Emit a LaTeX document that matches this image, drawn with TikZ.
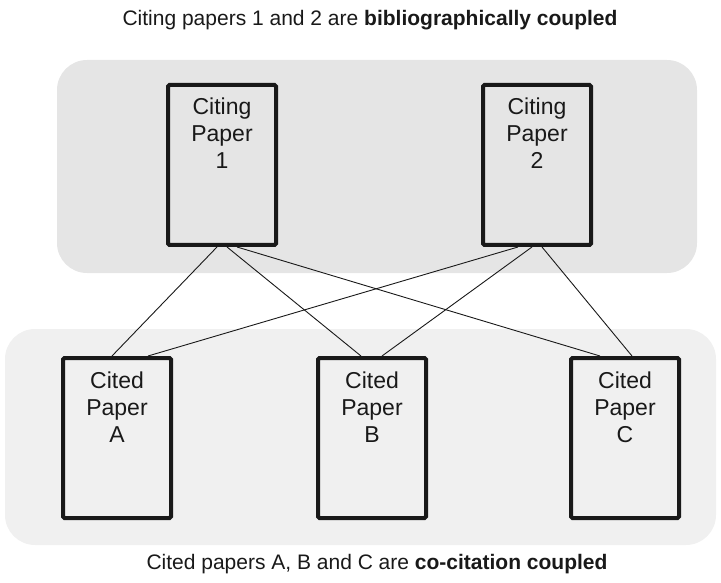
\documentclass[tikz,border=0pt]{standalone}
\usepackage{fontspec}
\setmainfont{Liberation Sans}
\begin{document}
\begin{tikzpicture}[x=1pt,y=-1pt,
  paper/.style={draw=black!90, line width=4pt, rounded corners=1.5pt, minimum width=108pt, minimum height=160pt, inner sep=0pt},
  lbl/.style={anchor=north, align=center, inner sep=0pt, font=\fontsize{23pt}{26.7pt}\selectfont, text=black!90},
  captext/.style={inner sep=0pt, font=\fontsize{21pt}{24pt}\selectfont, text=black!90},
  link/.style={draw=black!90, line width=0.9pt}]
\useasboundingbox (0,0) rectangle (721,583);
% panels
\fill[black!10, rounded corners=30pt] (57,60) rectangle (697,273);
\fill[black!6, rounded corners=30pt] (5,329) rectangle (716,545);
% captions
\node[captext] (top) at (370,20) {Citing papers 1 and 2 are \textbf{bibliographically coupled}};
\node[captext] (bot) at (377,564) {Cited papers A, B and C are \textbf{co-citation coupled}};
% boxes
\node[paper] (c1) at (222,165) {};
\node[paper] (c2) at (537,165) {};
\node[paper] (pa) at (117,438) {};
\node[paper] (pb) at (372,438) {};
\node[paper] (pc) at (625,438) {};
% labels
\node[lbl] (c1t) at (222,98) {Citing\\Paper\\1};
\node[lbl] (c2t) at (537,98) {Citing\\Paper\\2};
\node[lbl] (pat) at (117,372) {Cited\\Paper\\A};
\node[lbl] (pbt) at (372,372) {Cited\\Paper\\B};
\node[lbl] (pct) at (625,372) {Cited\\Paper\\C};
% connectors
\draw[link] ([xshift=-5pt]c1.south) -- ([xshift=-5pt]pa.north);
\draw[link] ([xshift=5pt]c1.south) -- ([xshift=-11pt]pb.north);
\draw[link] ([xshift=15pt]c1.south) -- ([xshift=-25pt]pc.north);
\draw[link] ([xshift=-19pt]c2.south) -- ([xshift=31pt]pa.north);
\draw[link] ([xshift=-5pt]c2.south) -- ([xshift=10pt]pb.north);
\draw[link] ([xshift=5pt]c2.south) -- ([xshift=7pt]pc.north);
\end{tikzpicture}
\end{document}
